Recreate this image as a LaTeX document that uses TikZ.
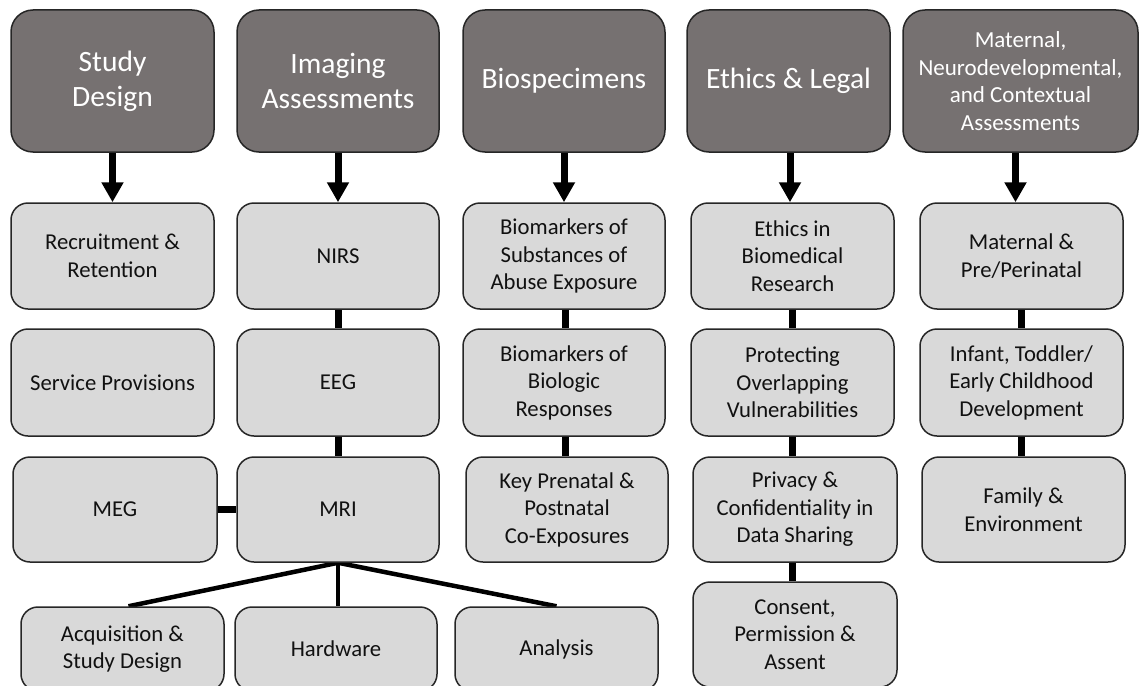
\documentclass[tikz,border=0pt]{standalone}
\usepackage{fontspec}
\setmainfont{Carlito}
\usetikzlibrary{arrows.meta,calc,backgrounds}
\definecolor{hdrfill}{HTML}{767171}
\definecolor{boxfill}{HTML}{D9D9D9}
\definecolor{edgecol}{HTML}{262626}
\definecolor{txtcol}{HTML}{111111}
\begin{document}
\begin{tikzpicture}[x=1pt,y=-1pt,
  hdr/.style={draw=edgecol,line width=1.5pt,fill=hdrfill,rounded corners=22pt,text=white,align=center,font=\fontsize{29.5}{35}\selectfont,inner sep=0pt,minimum height=142pt},
  sub/.style={draw=edgecol,line width=1.5pt,fill=boxfill,rounded corners=17pt,text=txtcol,align=center,font=\fontsize{22.7}{27.5}\selectfont,inner sep=0pt,minimum height=106pt},
  link/.style={line width=7pt},
  fan/.style={line width=4.5pt},
  arr/.style={line width=7pt,-{Triangle[width=21pt,length=20pt]}}]
\useasboundingbox (0,0) rectangle (1139,685);
\clip (0,0) rectangle (1139,685);
% headers
\node[hdr,minimum width=203pt] (sd) at (112.5,81) {Study\\Design};
\node[hdr,minimum width=202pt] (ia) at (338,81) {Imaging\\Assessments};
\node[hdr,minimum width=202pt] (bio) at (564,81) {Biospecimens};
\node[hdr,minimum width=203pt] (eth) at (788.5,81) {Ethics \& Legal};
\node[hdr,minimum width=235pt,font=\fontsize{23}{27.5}\selectfont] (mat) at (1020.5,81) {Maternal,\\Neurodevelopmental,\\and Contextual\\Assessments};
% row 2
\node[sub,minimum width=203pt] (rec) at (112.5,256) {Recruitment \&\\Retention};
\node[sub,minimum width=202pt] (nirs) at (338,256) {NIRS};
\node[sub,minimum width=202pt] (bioA) at (564,256) {Biomarkers of\\Substances of\\Abuse Exposure};
\node[sub,minimum width=203pt] (ethA) at (792.5,256) {Ethics in\\Biomedical\\Research};
\node[sub,minimum width=203pt] (matA) at (1021.5,256) {Maternal \&\\Pre/Perinatal};
% row 3
\node[sub,minimum width=203pt,minimum height=107pt] (serv) at (112.5,382.5) {Service Provisions};
\node[sub,minimum width=202pt,minimum height=107pt] (eeg) at (338,382.5) {EEG};
\node[sub,minimum width=202pt,minimum height=107pt] (bioB) at (564,382.5) {Biomarkers of\\Biologic\\Responses};
\node[sub,minimum width=203pt,minimum height=107pt] (ethB) at (792.5,382.5) {Protecting\\Overlapping\\Vulnerabilities};
\node[sub,minimum width=203pt,minimum height=107pt] (matB) at (1021.5,382.5) {Infant, Toddler/\\Early Childhood\\Development};
% row 4
\node[sub,minimum width=204pt,minimum height=105pt] (meg) at (115,509.5) {MEG};
\node[sub,minimum width=202pt,minimum height=105pt] (mri) at (338,509.5) {MRI};
\node[sub,minimum width=202pt,minimum height=105pt] (bioC) at (567,509.5) {Key Prenatal \&\\Postnatal\\Co-Exposures};
\node[sub,minimum width=204pt,minimum height=105pt] (ethC) at (795,509.5) {Privacy \&\\Confidentiality in\\Data Sharing};
\node[sub,minimum width=203pt,minimum height=105pt] (fam) at (1023.5,509.5) {Family \&\\Environment};
% row 5
\node[sub,minimum width=203pt,minimum height=84pt] (acq) at (122.5,649) {Acquisition \&\\Study Design};
\node[sub,minimum width=202pt,minimum height=84pt] (hw) at (336,649) {Hardware};
\node[sub,minimum width=203pt,minimum height=84pt] (ana) at (556.5,649) {Analysis};
\node[sub,minimum width=204pt,minimum height=105pt] (ethD) at (795,634.5) {Consent,\\Permission \&\\Assent};
\begin{scope}[on background layer]
  % arrows
  \draw[arr] (sd.south) -- (sd.south |- rec.north);
  \draw[arr] (ia.south) -- (ia.south |- nirs.north);
  \draw[arr] (bio.south) -- (bio.south |- bioA.north);
  \draw[arr] ($(eth.south)+(1.5,0)$) -- ($(eth.south |- ethA.north)+(1.5,0)$);
  \draw[arr] ($(mat.south)+(-5,0)$) -- ($(mat.south |- matA.north)+(-5,0)$);
  % vertical links
  \draw[link] (nirs.south) -- (eeg.north);
  \draw[link] (eeg.south) -- (mri.north);
  \draw[link] ($(bioA.south)+(1.5,0)$) -- ($(bioB.north)+(1.5,0)$);
  \draw[link] ($(bioB.south)+(1.5,0)$) -- ($(bioB.south |- bioC.north)+(1.5,0)$);
  \draw[link] (ethA.south) -- (ethB.north);
  \draw[link] (ethB.south) -- (ethB.south |- ethC.north);
  \draw[link] (ethC.south -| ethB.south) -- (ethB.south |- ethD.north);
  \draw[link] (matA.south) -- (matB.north);
  \draw[link] (matB.south) -- (matB.south |- fam.north);
  \draw[link] (meg.east) -- (mri.west);
  % fan
  \draw[fan] (mri.south) -- ($(acq.north)+(6,0)$);
  \draw[fan] (mri.south) -- (mri.south |- hw.north);
  \draw[fan] (mri.south) -- (ana.north);
\end{scope}
\end{tikzpicture}
\end{document}
